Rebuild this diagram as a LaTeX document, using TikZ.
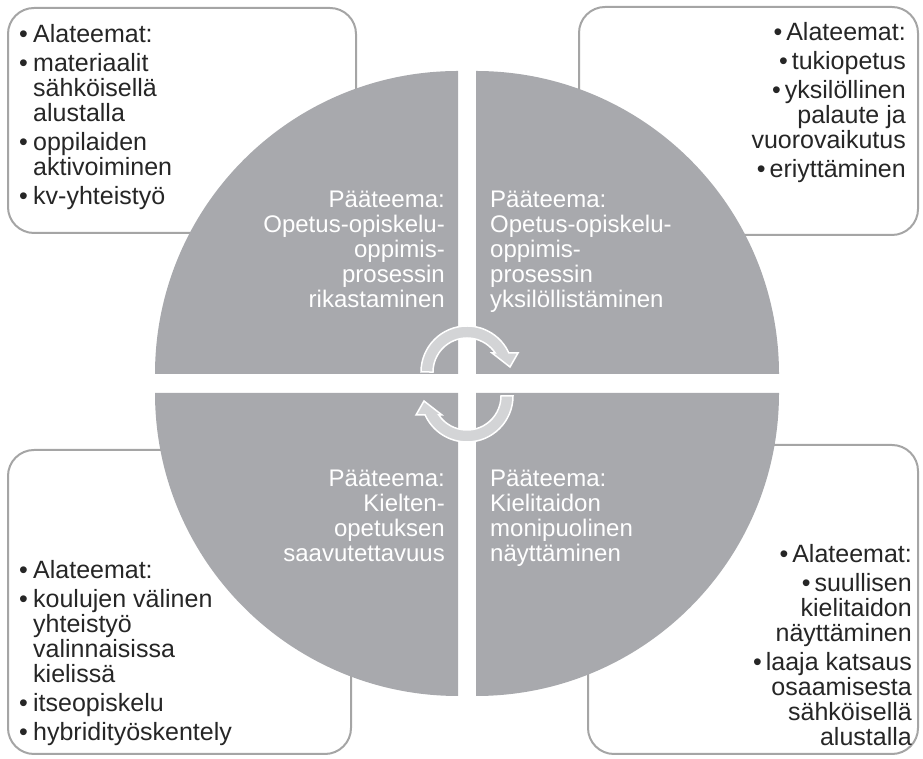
\documentclass[tikz,border=0pt]{standalone}
\usepackage{fontspec}
\setmainfont{Liberation Sans}
\definecolor{quad}{RGB}{168,169,173}
\definecolor{boxline}{RGB}{165,165,165}
\definecolor{arrowfill}{RGB}{211,212,214}
\newcommand{\bul}{\makebox[14pt][l]{•}}
\newcommand{\ind}{\hspace*{14pt}}
\newcommand{\rbul}{•\hspace{4pt}}
\begin{document}
\begin{tikzpicture}[x=1pt,y=1pt,
  subbox/.style={draw=boxline, line width=2pt, fill=white, rounded corners=26pt},
  quadfill/.style={fill=quad},
  blockarrow/.style={fill=arrowfill, draw=white, line width=1.5pt, line join=miter},
  subtext/.style={inner sep=0pt, font=\fontsize{25}{25}\selectfont, text=black!85},
  maintext/.style={inner sep=0pt, font=\fontsize{24}{25}\selectfont, text=white}]
\useasboundingbox (0,0) rectangle (923,759);
% sub-theme boxes
\draw[subbox] (8,526) rectangle (356,751);
\draw[subbox] (579,524) rectangle (918,752);
\draw[subbox] (8,5) rectangle (351,309);
\draw[subbox] (588,5) rectangle (918,314);
% quadrants
\coordinate (ctl) at (458,385);
\coordinate (ctr) at (476,385);
\coordinate (cbl) at (458,366);
\coordinate (cbr) at (476,366);
\fill[quadfill] (ctl) -- ++(-303,0) arc[start angle=180, end angle=90, radius=303] -- cycle;
\fill[quadfill] (ctr) -- ++(0,303) arc[start angle=90, end angle=0, radius=303] -- cycle;
\fill[quadfill] (cbl) -- ++(0,-303) arc[start angle=270, end angle=180, radius=303] -- cycle;
\fill[quadfill] (cbr) -- ++(303,0) arc[start angle=0, end angle=-90, radius=303] -- cycle;
% cycle arrows
\coordinate (ca) at (467,387);
\coordinate (cb) at (467,363);
\draw[blockarrow, shift={(ca)}] (180:46) arc[start angle=180, end angle=24.4, radius=46]
  -- (51,19) -- (43,5) -- (25,19) -- (28.2,19)
  arc[start angle=34, end angle=180, radius=34] -- cycle;
\draw[blockarrow, shift={(cb)}] (0:46) arc[start angle=0, end angle=-155.6, radius=46]
  -- (-51,-19) -- (-43,-5) -- (-25,-19) -- (-28.2,-19)
  arc[start angle=-146, end angle=0, radius=34] -- cycle;
% sub-theme texts
\node[subtext, anchor=north west, align=left] (ttl) at (19,735.2)
  {\bul Alateemat:\\[4pt]
   \bul materiaalit\\ \ind sähköisellä\\ \ind alustalla\\[4pt]
   \bul oppilaiden\\ \ind aktivoiminen\\[4pt]
   \bul kv-yhteistyö};
\node[subtext, anchor=north east, align=right] (ttr) at (906,737.2)
  {\rbul Alateemat:\\[4pt]
   \rbul tukiopetus\\[4pt]
   \rbul yksilöllinen\\ palaute ja\\ vuorovaikutus\\[4pt]
   \rbul eriyttäminen};
\node[subtext, anchor=north west, align=left] (tbl) at (19,199.2)
  {\bul Alateemat:\\[4pt]
   \bul koulujen välinen\\ \ind yhteistyö\\ \ind valinnaisissa\\ \ind kielissä\\[4pt]
   \bul itseopiskelu\\[4pt]
   \bul hybridityöskentely};
\node[subtext, anchor=north east, align=right] (tbr) at (912,215)
  {\rbul Alateemat:\\[4pt]
   \rbul suullisen\\ kielitaidon\\ näyttäminen\\[4pt]
   \rbul laaja katsaus\\ osaamisesta\\ sähköisellä\\ alustalla};
% main theme texts
\node[maintext, anchor=north east, align=right] (mtl) at (445,568.3)
  {Pääteema:\\ Opetus-opiskelu-\\ oppimis-\\ prosessin\\ rikastaminen};
\node[maintext, anchor=north west, align=left] (mtr) at (490,568.3)
  {Pääteema:\\ Opetus-opiskelu-\\ oppimis-\\ prosessin\\ yksilöllistäminen};
\node[maintext, anchor=north east, align=right] (mbl) at (445,289.3)
  {Pääteema:\\ Kielten-\\ opetuksen\\ saavutettavuus};
\node[maintext, anchor=north west, align=left] (mbr) at (490,289.3)
  {Pääteema:\\ Kielitaidon\\ monipuolinen\\ näyttäminen};
\end{tikzpicture}
\end{document}
